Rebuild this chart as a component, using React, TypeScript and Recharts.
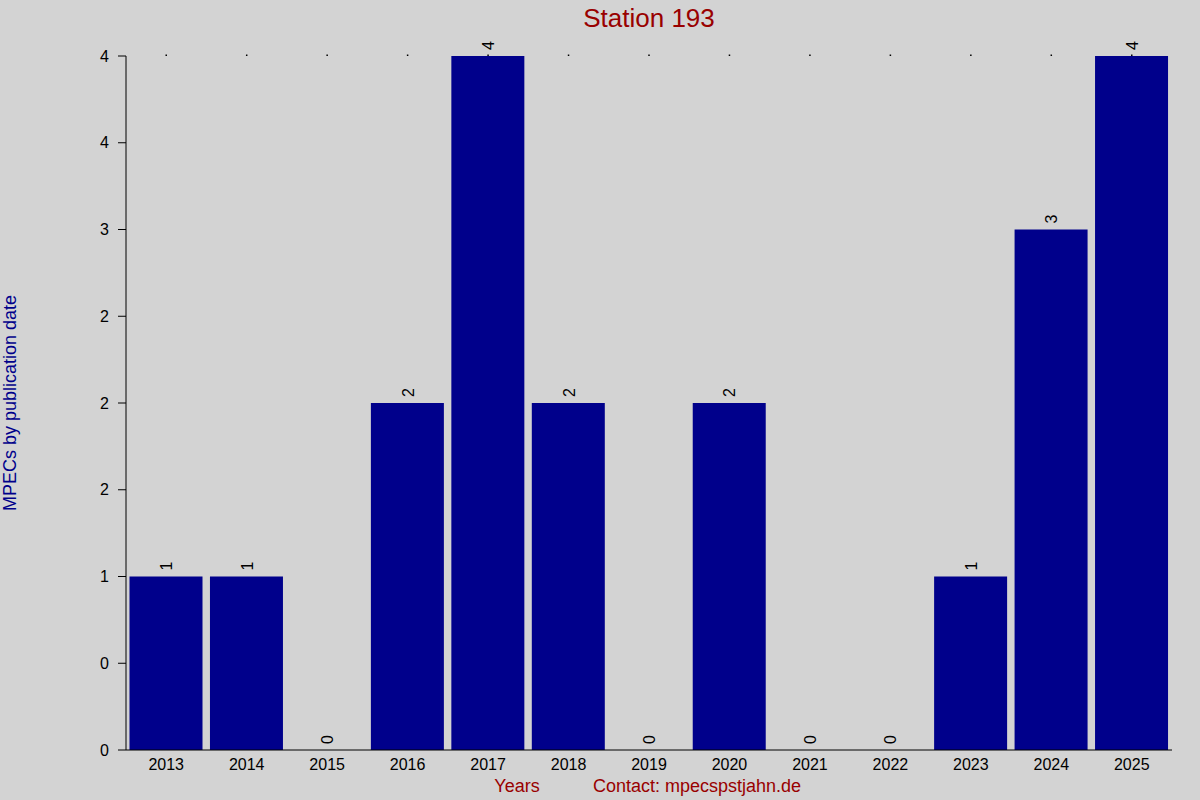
import React from 'react';
import { ComposedChart, Bar, Line, XAxis, YAxis, LabelList } from 'recharts';

const years = ['2013', '2014', '2015', '2016', '2017', '2018', '2019', '2020', '2021', '2022', '2023', '2024', '2025'];
const counts = [1, 1, 0, 2, 4, 2, 0, 2, 0, 0, 1, 3, 4];
const yTicks = [0, 0.5, 1, 1.5, 2, 2.5, 3, 3.5, 4];
const yTickLabels = ['0', '0', '1', '2', '2', '2', '3', '4', '4'];

const titleText = 'Station 193';
const yLabelText = 'MPECs by publication date';
const xLabelText = 'Years';
const contactText = 'Contact: mpecspstjahn.de';

const data = years.map((y, i) => ({ year: y, count: counts[i] }));

const FONT = '"Liberation Sans", Arial, Helvetica, sans-serif';

const renderLabel = (props: any) => {
  const { x, y, value } = props;
  const cx = Number(x) + 0.5;
  const ty = Number(y) - 6;
  return (
    <text
      x={cx}
      y={ty}
      transform={`rotate(-90 ${cx} ${ty})`}
      textAnchor="start"
      dominantBaseline="central"
      fontSize={16}
      fill="#000"
      fontFamily={FONT}
    >
      {String(value)}
    </text>
  );
};

const emptyTick = () => <g />;

export default function App() {
  return (
    <div style={{ position: 'absolute', left: 0, top: 0, width: 1200, height: 800, background: '#D3D3D3', fontFamily: FONT }}>
      <ComposedChart
        width={1200}
        height={800}
        data={data}
        margin={{ top: 55, right: 28, bottom: 20, left: 66 }}
        barCategoryGap={3.5}
      >
        <XAxis
          xAxisId="top"
          orientation="top"
          dataKey="year"
          height={1}
          axisLine={false}
          tickLine={{ stroke: '#000', strokeWidth: 1.5 }}
          tickSize={1.5}
          tick={emptyTick}
          interval={0}
        />
        <XAxis
          xAxisId="bottom"
          dataKey="year"
          height={30}
          axisLine={{ stroke: '#000', strokeWidth: 1 }}
          tickLine={false}
          tickSize={6}
          tickMargin={3}
          interval={0}
          tick={{ fill: '#000', fontSize: 16, fontFamily: FONT }}
        />
        <YAxis
          width={60}
          domain={[0, 4]}
          ticks={yTicks}
          interval={0}
          axisLine={{ stroke: '#000', strokeWidth: 1 }}
          tickLine={{ stroke: '#000', strokeWidth: 1 }}
          tickSize={8}
          tickMargin={9}
          tick={{ fill: '#000', fontSize: 16, fontFamily: FONT }}
          tickFormatter={(v: number) => {
            const idx = yTicks.indexOf(v);
            return idx >= 0 ? yTickLabels[idx] : String(v);
          }}
        />
        <Bar dataKey="count" xAxisId="bottom" fill="#00008B" isAnimationActive={false} />
        <Line
          dataKey="count"
          xAxisId="bottom"
          stroke="none"
          dot={false}
          activeDot={false}
          legendType="none"
          isAnimationActive={false}
        >
          <LabelList dataKey="count" content={renderLabel} />
        </Line>
      </ComposedChart>
      <svg
        width={1200}
        height={800}
        style={{ position: 'absolute', left: 0, top: 0, pointerEvents: 'none' }}
      >
        <text x={649} y={27} textAnchor="middle" fontSize={26} fill="#990000" fontFamily={FONT}>
          {titleText}
        </text>
        <text
          x={16}
          y={403}
          transform="rotate(-90 16 403)"
          textAnchor="middle"
          fontSize={18}
          fill="#00008B"
          fontFamily={FONT}
        >
          {yLabelText}
        </text>
        <text x={517} y={792} textAnchor="middle" fontSize={18} fill="#990000" fontFamily={FONT}>
          {xLabelText}
        </text>
        <text x={697} y={792} textAnchor="middle" fontSize={18} fill="#990000" fontFamily={FONT}>
          {contactText}
        </text>
      </svg>
    </div>
  );
}
